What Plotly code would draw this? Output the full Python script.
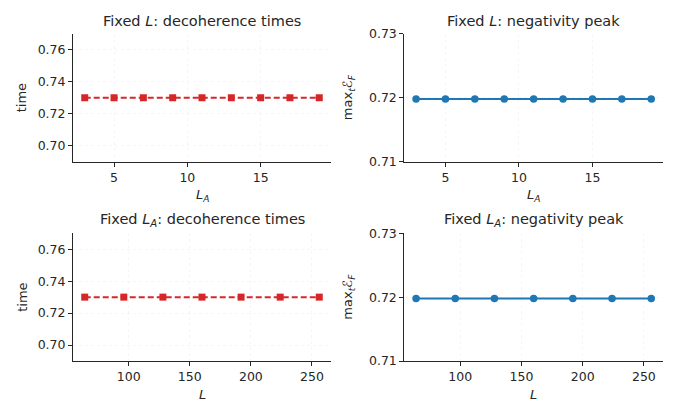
import plotly.graph_objects as go

# ---- data ----
LA_values = [3, 5, 7, 9, 11, 13, 15, 17, 19]
L_values = [64, 96, 128, 160, 192, 224, 256]
decoh_fixed_L = [0.730, 0.730, 0.730, 0.730, 0.730, 0.730, 0.730, 0.730, 0.730]
neg_fixed_L = [0.7198, 0.7198, 0.7198, 0.7198, 0.7198, 0.7198, 0.7198, 0.7198, 0.7198]
decoh_fixed_LA = [0.730, 0.730, 0.730, 0.730, 0.730, 0.730, 0.730]
neg_fixed_LA = [0.7198, 0.7198, 0.7198, 0.7198, 0.7198, 0.7198, 0.7198]

titles = ["Fixed <i>L</i>: decoherence times",
          "Fixed <i>L</i>: negativity peak",
          "Fixed <i>L</i><sub><i>A</i></sub>: decoherence times",
          "Fixed <i>L</i><sub><i>A</i></sub>: negativity peak"]
xlabels = ["<i>L<sub>A</sub></i>", "<i>L<sub>A</sub></i>", "<i>L</i>", "<i>L</i>"]
ylabels = ["time", "max<sub><i>t</i></sub>ℰ<sub><i>F</i></sub>",
           "time", "max<sub><i>t</i></sub>ℰ<sub><i>F</i></sub>"]
time_ticks = [0.70, 0.72, 0.74, 0.76]
neg_ticks = [0.71, 0.72, 0.73]
LA_ticks = [5, 10, 15]
L_ticks = [100, 150, 200, 250]

RED = "#d62728"
BLUE = "#1f77b4"
W, H = 683, 414
FONT = "DejaVu Sans"
TXT = "#262626"

fig = go.Figure()

# pixel boxes (left, right, top, bottom)
boxes = [(73, 331, 26.7, 159.3), (404.3, 663, 26.7, 159.3),
         (73, 331, 233.7, 366.3), (404.3, 663, 233.7, 366.3)]

series = [
    (LA_values, decoh_fixed_L, RED, "dash", "square"),
    (LA_values, neg_fixed_L, BLUE, "solid", "circle"),
    (L_values, decoh_fixed_LA, RED, "dash", "square"),
    (L_values, neg_fixed_LA, BLUE, "solid", "circle"),
]
xranges = [[2.2, 19.8], [2.2, 19.8], [54.4, 265.6], [54.4, 265.6]]
yranges = [[0.69, 0.77], [0.71, 0.73], [0.69, 0.77], [0.71, 0.73]]
xtickss = [LA_ticks, LA_ticks, L_ticks, L_ticks]
ytickss = [time_ticks, neg_ticks, time_ticks, neg_ticks]

annotations = []
for i in range(4):
    l, r, t, b = boxes[i]
    xs, ys, col, dash, sym = series[i]
    xa = "x" if i == 0 else f"x{i+1}"
    ya = "y" if i == 0 else f"y{i+1}"
    fig.add_trace(go.Scatter(
        x=xs, y=ys, mode="lines+markers", xaxis=xa, yaxis=ya,
        line=dict(color=col, width=2, dash="6px,3px" if dash == "dash" else "solid"),
        marker=dict(color=col, size=7 if sym == "square" else 7.5, symbol=sym),
        showlegend=False,
    ))
    axis_common = dict(
        showline=True, linecolor="#262626", linewidth=1,
        ticks="outside", ticklen=4, tickwidth=1, tickcolor="#262626",
        showgrid=True, gridcolor="rgba(0,0,0,0.035)", griddash="dot", gridwidth=1,
        zeroline=False, tickfont=dict(family=FONT, size=12.5, color=TXT),
        mirror=False,
    )
    fig.layout[f"xaxis{'' if i == 0 else i+1}"] = dict(
        domain=[l / W, r / W], anchor=ya, range=xranges[i],
        tickvals=xtickss[i], **axis_common)
    fig.layout[f"yaxis{'' if i == 0 else i+1}"] = dict(
        domain=[1 - b / H, 1 - t / H], anchor=xa, range=yranges[i],
        tickvals=ytickss[i], tickformat=".2f", **axis_common)

    cx = (l + r) / 2
    annotations.append(dict(
        text=titles[i], x=cx / W, y=1 - (t - 13.5) / H, xref="paper", yref="paper",
        xanchor="center", yanchor="middle", showarrow=False,
        font=dict(family=FONT, size=14.5, color=TXT)))
    annotations.append(dict(
        text=xlabels[i], x=cx / W, y=1 - (b + 35) / H, xref="paper", yref="paper",
        xanchor="center", yanchor="middle", showarrow=False,
        font=dict(family=FONT, size=13, color=TXT)))
    ylx = 21.7 if i % 2 == 0 else 348.5
    annotations.append(dict(
        text=ylabels[i], x=ylx / W, y=1 - ((t + b) / 2) / H, xref="paper", yref="paper",
        xanchor="center", yanchor="middle", showarrow=False, textangle=-90,
        font=dict(family=FONT, size=13, color=TXT)))

fig.update_layout(
    width=W, height=H, margin=dict(l=0, r=0, t=0, b=0),
    paper_bgcolor="white", plot_bgcolor="white",
    annotations=annotations,
    font=dict(family=FONT, color=TXT),
)

fig.write_html("out.html")
